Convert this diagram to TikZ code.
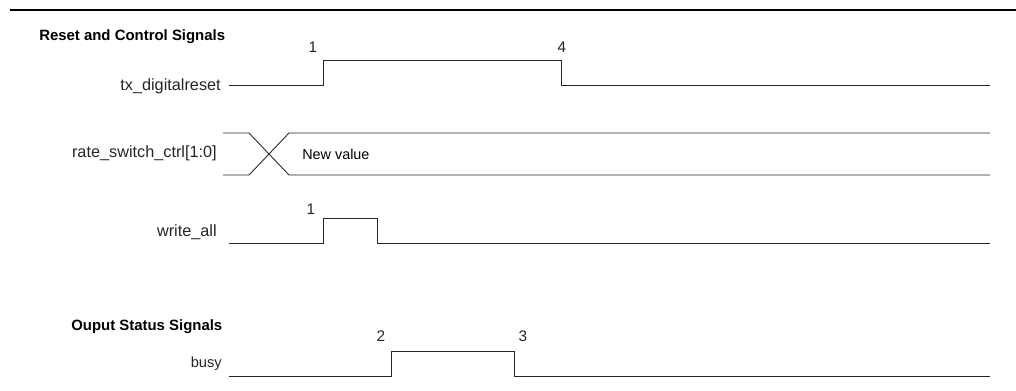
\documentclass[tikz,border=0pt]{standalone}
\usepackage{fontspec}
\setmainfont{Liberation Sans}
\usetikzlibrary{positioning}

\begin{document}
\begin{tikzpicture}[
    x=0.75pt, y=-0.75pt,
    heading/.style={font=\fontsize{11.2}{13}\selectfont\bfseries, anchor=west, inner sep=0pt},
    signame/.style={font=\fontsize{12.2}{14}\selectfont, anchor=east, inner sep=0pt, text=black!85},
    edgenum/.style={font=\fontsize{11.5}{13}\selectfont, inner sep=0pt, text=black!85},
    wave/.style={draw=black!85, line width=0.65pt}
]
\useasboundingbox (0,0) rectangle (1016,390);

% top rule
\draw[line width=1.6pt] (10,10) -- (1016,10);

% Reset and control signals
\node[heading] (hdrreset) at (39,37) {Reset and Control Signals};

\node[signame] (txreset) at (221,86) {tx\_digitalreset};
\draw[wave] (229,85) -- (323,85) -- (323,60) -- (561,60) -- (561,85) -- (990,85);
\node[edgenum] (txrise) at (313,47) {1};
\node[edgenum] (txfall) at (562,47) {4};

\node[signame] (ratectrl) at (217,153) {rate\_switch\_ctrl[1:0]};
\draw[wave] (223,133) -- (249,133) -- (289,175) -- (990,175);
\draw[wave] (223,175) -- (249,175) -- (289,133) -- (990,133);
\node[font=\fontsize{10.8}{13}\selectfont, anchor=west, inner sep=0pt] (newval) at (302,154) {New value};

\node[signame] (wrall) at (217,232) {write\_all};
\draw[wave] (229,243) -- (323,243) -- (323,218) -- (377,218) -- (377,243) -- (990,243);
\node[edgenum] (wrrise) at (311,209) {1};

% Output status signals
\node[heading] (hdrstatus) at (71,327) {Ouput Status Signals};

\node[signame, font=\fontsize{11}{13}\selectfont] (busy) at (222,364) {busy};
\draw[wave] (229,376) -- (391,376) -- (391,351) -- (514,351) -- (514,376) -- (990,376);
\node[edgenum] (busyrise) at (381,336) {2};
\node[edgenum] (busyfall) at (523,336) {3};

\end{tikzpicture}
\end{document}
